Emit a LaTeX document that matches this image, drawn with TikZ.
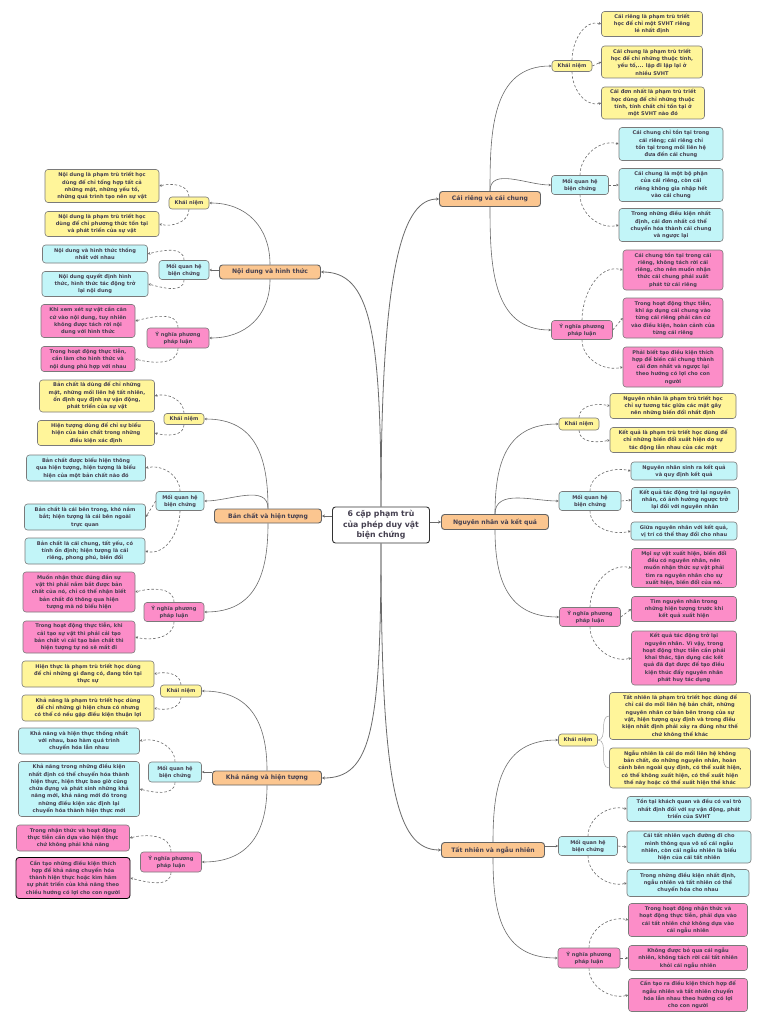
\documentclass[tikz,border=0pt]{standalone}
\usepackage{fontspec}
\setmainfont{DejaVu Sans}
\usetikzlibrary{arrows.meta}
\definecolor{txt}{HTML}{454050}
\definecolor{yel}{HTML}{FFF59A}
\definecolor{cya}{HTML}{C2F5F8}
\definecolor{pnk}{HTML}{FC8DC8}
\definecolor{org}{HTML}{FBC690}
\definecolor{bdr}{HTML}{7A7A7A}
\definecolor{lnk}{HTML}{6A6A6A}
\tikzset{
  box/.style={rounded corners=3pt, draw=bdr, line width=0.6pt, align=center, text=txt, inner sep=1pt, font=\bfseries\fontsize{5.1}{7.3}\selectfont},
  wh/.style 2 args={minimum width=#1pt, minimum height=#2pt},
  yl/.style={box, fill=yel},
  cy/.style={box, fill=cya},
  pk/.style={box, fill=pnk},
  topic/.style={box, fill=org, line width=0.9pt, draw=bdr!80!black, font=\bfseries\fontsize{6.1}{8}\selectfont},
  rootbox/.style={box, fill=white, draw=black!80, line width=0.9pt, font=\bfseries\fontsize{7.8}{10.5}\selectfont},
  mainlink/.style={draw=lnk, line width=0.8pt, -{Stealth[length=3pt,width=3pt]}},
  sublink/.style={draw=lnk, line width=0.6pt, -{Stealth[length=2.6pt,width=2.6pt]}},
  leaflink/.style={draw=lnk, line width=0.6pt, dash pattern=on 2.5pt off 2pt, -{Stealth[length=2.6pt,width=2.6pt]}},
  plainlink/.style={draw=gray!70, line width=0.5pt},
}
\begin{document}
\begin{tikzpicture}[x=1pt,y=1pt]
\useasboundingbox (0,0) rectangle (768,-1024);
\fill[white] (0,0) rectangle (768,-1024);

% root and topics
\node[rootbox, wh={97}{36}] (root) at (381,-525) {6 cặp phạm trù\\của phép duy vật\\biện chứng};
\node[topic, wh={101}{15}] (crc) at (490,-199) {Cái riêng và cái chung};
\node[topic, wh={107}{15}] (nn) at (495,-522) {Nguyên nhân và kết quả};
\node[topic, wh={103}{15}] (tn) at (493,-850) {Tất nhiên và ngẫu nhiên};
\node[topic, wh={101}{14}] (nd) at (270,-272) {Nội dung và hình thức};
\node[topic, wh={107}{14}] (bc) at (268,-516) {Bản chất và hiện tượng};
\node[topic, wh={109}{14}] (kn) at (267,-778) {Khả năng và hiện tượng};

% ---------- Cái riêng và cái chung ----------
\node[yl, wh={40}{11}] (k1) at (572,-66) {Khái niệm};
\node[yl, wh={101}{25}] (k1a) at (652,-24) {Cái riêng là phạm trù triết\\học để chỉ một SVHT riêng\\lẻ nhất định};
\node[yl, wh={101}{32}] (k1b) at (652,-62) {Cái chung là phạm trù triết\\học để chỉ những thuộc tính,\\yếu tố,... lặp đi lặp lại ở\\nhiều SVHT};
\node[yl, wh={103}{32}] (k1c) at (653,-103) {Cái đơn nhất là phạm trù triết\\học dùng để chỉ những thuộc\\tính, tính chất chỉ tồn tại ở\\một SVHT nào đó};
\node[cy, wh={57}{19}] (m1) at (580,-185) {Mối quan hệ\\biện chứng};
\node[cy, wh={104}{33}] (m1a) at (671,-144) {Cái chung chỉ tồn tại trong\\cái riêng; cái riêng chỉ\\tồn tại trong mối liên hệ\\đưa đến cái chung};
\node[cy, wh={104}{33}] (m1b) at (671,-185) {Cái chung là một bộ phận\\của cái riêng, còn cái\\riêng không gia nhập hết\\vào cái chung};
\node[cy, wh={104}{33}] (m1c) at (671,-225) {Trong những điều kiện nhất\\định, cái đơn nhất có thể\\chuyển hóa thành cái chung\\và ngược lại};
\node[pk, wh={61}{19}] (y1) at (582,-330) {Ý nghĩa phương\\pháp luận};
\node[pk, wh={100}{40}] (y1a) at (673,-270) {Cái chung tồn tại trong cái\\riêng, không tách rời cái\\riêng, cho nên muốn nhận\\thức cái chung phải xuất\\phát từ cái riêng};
\node[pk, wh={100}{40}] (y1b) at (673,-318) {Trong hoạt động thực tiễn,\\khi áp dụng cái chung vào\\từng cái riêng phải căn cứ\\vào điều kiện, hoàn cảnh của\\từng cái riêng};
\node[pk, wh={100}{40}] (y1c) at (673,-367) {Phải biết tạo điều kiện thích\\hợp để biến cái chung thành\\cái đơn nhất và ngược lại\\theo hướng có lợi cho con\\người};

% ---------- Nguyên nhân và kết quả ----------
\node[yl, wh={40}{12}] (k2) at (579,-424) {Khái niệm};
\node[yl, wh={126}{25}] (k2a) at (673,-406) {Nguyên nhân là phạm trù triết học\\chỉ sự tương tác giữa các mặt gây\\nên những biến đổi nhất định};
\node[yl, wh={126}{25}] (k2b) at (673,-440) {Kết quả là phạm trù triết học dùng để\\chỉ những biến đổi xuất hiện do sự\\tác động lẫn nhau của các mặt};
\node[cy, wh={62}{19}] (m2) at (590,-501) {Mối quan hệ\\biện chứng};
\node[cy, wh={106}{18}] (m2a) at (684,-471) {Nguyên nhân sinh ra kết quả\\và quy định kết quả};
\node[cy, wh={107}{25}] (m2b) at (685,-500) {Kết quả tác động trở lại nguyên\\nhân, có ảnh hưởng ngược trở\\lại đối với nguyên nhân};
\node[cy, wh={106}{18}] (m2c) at (684,-531) {Giữa nguyên nhân với kết quả,\\vị trí có thể thay đổi cho nhau};
\node[pk, wh={61}{19}] (y2) at (590,-617) {Ý nghĩa phương\\pháp luận};
\node[pk, wh={105}{39}] (y2a) at (684,-568) {Mọi sự vật xuất hiện, biến đổi\\đều có nguyên nhân, nên\\muốn nhận thức sự vật phải\\tìm ra nguyên nhân cho sự\\xuất hiện, biến đổi của nó.};
\node[pk, wh={105}{25}] (y2b) at (684,-609) {Tìm nguyên nhân trong\\những hiện tượng trước khi\\kết quả xuất hiện};
\node[pk, wh={105}{54}] (y2c) at (684,-658) {Kết quả tác động trở lại\\nguyên nhân. Vì vậy, trong\\hoạt động thực tiễn cần phải\\khai thác, tận dụng các kết\\quả đã đạt được để tạo điều\\kiện thúc đẩy nguyên nhân\\phát huy tác dụng};

% ---------- Tất nhiên và ngẫu nhiên ----------
\node[yl, wh={39}{12}] (k3) at (578,-740) {Khái niệm};
\node[yl, wh={141}{47}] (k3a) at (680,-716) {Tất nhiên là phạm trù triết học dùng để\\chỉ cái do mối liên hệ bản chất, những\\nguyên nhân cơ bản bên trong của sự\\vật, hiện tượng quy định và trong điều\\kiện nhất định phải xảy ra đúng như thế\\chứ không thể khác};
\node[yl, wh={141}{40}] (k3b) at (680,-768) {Ngẫu nhiên là cái do mối liên hệ không\\bản chất, do những nguyên nhân, hoàn\\cảnh bên ngoài quy định, có thể xuất hiện,\\có thể không xuất hiện, có thể xuất hiện\\thế này hoặc có thể xuất hiện thế khác};
\node[cy, wh={59}{19}] (m3) at (588,-846) {Mối quan hệ\\biện chứng};
\node[cy, wh={124}{25}] (m3a) at (689,-809) {Tồn tại khách quan và đều có vai trò\\nhất định đối với sự vận động, phát\\triển của SVHT};
\node[cy, wh={124}{32}] (m3b) at (689,-847) {Cái tất nhiên vạch đường đi cho\\mình thông qua vô số cái ngẫu\\nhiên, còn cái ngẫu nhiên là biểu\\hiện của cái tất nhiên};
\node[cy, wh={122}{27}] (m3c) at (688,-883) {Trong những điều kiện nhất định,\\ngẫu nhiên và tất nhiên có thể\\chuyển hóa cho nhau};
\node[pk, wh={62}{20}] (y3) at (589,-958) {Ý nghĩa phương\\pháp luận};
\node[pk, wh={119}{33}] (y3a) at (688,-920) {Trong hoạt động nhận thức và\\hoạt động thực tiễn, phải dựa vào\\cái tất nhiên chứ không dựa vào\\cái ngẫu nhiên};
\node[pk, wh={119}{25}] (y3b) at (688,-958) {Không được bỏ qua cái ngẫu\\nhiên, không tách rời cái tất nhiên\\khỏi cái ngẫu nhiên};
\node[pk, wh={119}{33}] (y3c) at (688,-995) {Cần tạo ra điều kiện thích hợp để\\ngẫu nhiên và tất nhiên chuyển\\hóa lẫn nhau theo hướng có lợi\\cho con người};

% ---------- Nội dung và hình thức ----------
\node[yl, wh={40}{12}] (k4) at (189,-203) {Khái niệm};
\node[yl, wh={114}{33}] (k4a) at (102,-186) {Nội dung là phạm trù triết học\\dùng để chỉ tổng hợp tất cả\\những mặt, những yếu tố,\\những quá trình tạo nên sự vật};
\node[yl, wh={114}{25}] (k4b) at (102,-224) {Nội dung là phạm trù triết học\\dùng để chỉ phương thức tồn tại\\và phát triển của sự vật};
\node[cy, wh={50}{19}] (m4) at (184,-270) {Mối quan hệ\\biện chứng};
\node[cy, wh={105}{18}] (m4a) at (95,-254) {Nội dung và hình thức thống\\nhất với nhau};
\node[cy, wh={106}{25}] (m4b) at (95,-284) {Nội dung quyết định hình\\thức, hình thức tác động trở\\lại nội dung};
\node[pk, wh={62}{20}] (y4) at (178,-338) {Ý nghĩa phương\\pháp luận};
\node[pk, wh={94}{33}] (y4a) at (88,-321) {Khi xem xét sự vật cần căn\\cứ vào nội dung, tuy nhiên\\không được tách rời nội\\dung với hình thức};
\node[pk, wh={94}{25}] (y4b) at (88,-359) {Trong hoạt động thực tiễn,\\cần làm cho hình thức và\\nội dung phù hợp với nhau};

% ---------- Bản chất và hiện tượng ----------
\node[yl, wh={40}{11}] (k5) at (184,-419) {Khái niệm};
\node[yl, wh={115}{32}] (k5a) at (97,-396) {Bản chất là dùng để chỉ những\\mặt, những mối liên hệ tất nhiên,\\ổn định quy định sự vận động,\\phát triển của sự vật};
\node[yl, wh={117}{25}] (k5b) at (96,-433) {Hiện tượng dùng để chỉ sự biểu\\hiện của bản chất trong những\\điều kiện xác định};
\node[cy, wh={48}{19}] (m5) at (180,-501) {Mối quan hệ\\biện chứng};
\node[cy, wh={119}{26}] (m5a) at (86,-468) {Bản chất được biểu hiện thông\\qua hiện tượng, hiện tượng là biểu\\hiện của một bản chất nào đó};
\node[cy, wh={121}{26}] (m5b) at (85,-517) {Bản chất là cái bên trong, khó nắm\\bắt; hiện tượng là cái bên ngoài\\trực quan};
\node[cy, wh={120}{26}] (m5c) at (85,-551) {Bản chất là cái chung, tất yếu, có\\tính ổn định; hiện tượng là cái\\riêng, phong phú, biến đổi};
\node[pk, wh={60}{19}] (y5) at (174,-612) {Ý nghĩa phương\\pháp luận};
\node[pk, wh={112}{40}] (y5a) at (79,-592) {Muốn nhận thức đúng đắn sự\\vật thì phải nắm bắt được bản\\chất của nó, chỉ có thể nhận biết\\bản chất đó thông qua hiện\\tượng mà nó biểu hiện};
\node[pk, wh={112}{32}] (y5b) at (79,-637) {Trong hoạt động thực tiễn, khi\\cải tạo sự vật thì phải cải tạo\\bản chất vì cải tạo bản chất thì\\hiện tượng tự nó sẽ mất đi};

% ---------- Khả năng và hiện tượng ----------
\node[yl, wh={41}{12}] (k6) at (181,-691) {Khái niệm};
\node[yl, wh={132}{26}] (k6a) at (88,-674) {Hiện thực là phạm trù triết học dùng\\để chỉ những gì đang có, đang tồn tại\\thực sự};
\node[yl, wh={132}{26}] (k6b) at (88,-708) {Khả năng là phạm trù triết học dùng\\để chỉ những gì hiện chưa có nhưng\\có thể có nếu gặp điều kiện thuận lợi};
\node[cy, wh={53}{20}] (m6) at (175,-772) {Mối quan hệ\\biện chứng};
\node[cy, wh={121}{26}] (m6a) at (79,-741) {Khả năng và hiện thực thống nhất\\với nhau, bao hàm quá trình\\chuyển hóa lẫn nhau};
\node[cy, wh={121}{55}] (m6b) at (79,-789) {Khả năng trong những điều kiện\\nhất định có thể chuyển hóa thành\\hiện thực, hiện thực bao giờ cũng\\chứa đựng và phát sinh những khả\\năng mới, khả năng mới đó trong\\những điều kiện xác định lại\\chuyển hóa thành hiện thực mới};
\node[pk, wh={61}{20}] (y6) at (171,-862) {Ý nghĩa phương\\pháp luận};
\node[pk, wh={113}{26}] (y6a) at (73,-838) {Trong nhận thức và hoạt động\\thực tiễn cần dựa vào hiện thực\\chứ không phải khả năng};
\node[pk, wh={114}{41}, draw=black, line width=0.8pt] (y6b) at (73,-878) {Cần tạo những điều kiện thích\\hợp để khả năng chuyển hóa\\thành hiện thực hoặc kìm hãm\\sự phát triển của khả năng theo\\chiều hướng có lợi cho con người};

% ---------- main links ----------
\draw[mainlink] (root.north) .. controls +(0,247) and +(-35,0) .. (crc.west);
\draw[mainlink] (root.north) .. controls +(0,177) and +(49,0) .. (nd.east);
\draw[mainlink] (bc.east -| root.west) -- (bc.east);
\draw[mainlink] (nn.west -| root.east) -- (nn.west);
\draw[mainlink] (root.south) .. controls +(0,-187) and +(49,0) .. (kn.east);
\draw[mainlink] (root.south) .. controls +(0,-237) and +(-46,0) .. (tn.west);

% ---------- topic to sub links ----------
\draw[sublink] (crc.north) to[out=90,in=180,looseness=1.1] (k1.west);
\draw[sublink] (crc.north) to[out=90,in=180] (m1.west);
\draw[sublink] (crc.south) to[out=-90,in=180,looseness=1.1] (y1.west);
\draw[sublink] (nn.north) to[out=90,in=180,looseness=1.2] (k2.west);
\draw[sublink] (nn.north) to[out=90,in=180] (m2.west);
\draw[sublink] (nn.south) to[out=-90,in=180,looseness=1.2] (y2.west);
\draw[sublink] (tn.north) to[out=90,in=180,looseness=1.2] (k3.west);
\draw[sublink] (m3.west -| tn.east) -- (m3.west);
\draw[sublink] (tn.south) to[out=-90,in=180,looseness=1.2] (y3.west);
\draw[sublink] (nd.north) to[out=90,in=0,looseness=1.1] (k4.east);
\draw[sublink] (m4.east -| nd.west) -- (m4.east);
\draw[sublink] (nd.south) to[out=-90,in=0,looseness=1.1] (y4.east);
\draw[sublink] (bc.north) to[out=90,in=0,looseness=1.2] (k5.east);
\draw[sublink] (bc.north) to[out=90,in=0] (m5.east);
\draw[sublink] (bc.south) to[out=-90,in=0,looseness=1.2] (y5.east);
\draw[sublink] (kn.north) to[out=90,in=0,looseness=1.2] (k6.east);
\draw[sublink] (m6.east -| kn.west) -- (m6.east);
\draw[sublink] (kn.south) to[out=-90,in=0,looseness=1.2] (y6.east);

% ---------- sub to leaf links (right) ----------
\draw[leaflink] (k1.north) to[out=90,in=165] (k1a.west);
\draw[leaflink] (k1.east) -- (k1b.west);
\draw[leaflink] (k1.south) to[out=-90,in=195] (k1c.west);
\draw[leaflink] (m1.north) to[out=90,in=165] (m1a.west);
\draw[leaflink] (m1.east) -- (m1b.west);
\draw[leaflink] (m1.south) to[out=-90,in=195] (m1c.west);
\draw[leaflink] (y1.north) to[out=90,in=165] (y1a.west);
\draw[leaflink] (y1.east) -- (y1b.west);
\draw[leaflink] (y1.south) to[out=-90,in=195] (y1c.west);
\draw[leaflink] (k2.north) to[out=90,in=165] (k2a.west);
\draw[leaflink] (k2.south) to[out=-90,in=195] (k2b.west);
\draw[leaflink] (m2.north) to[out=90,in=165] (m2a.west);
\draw[leaflink] (m2.east) -- (m2b.west);
\draw[leaflink] (m2.south) to[out=-90,in=195] (m2c.west);
\draw[leaflink] (y2.north) to[out=90,in=165] (y2a.west);
\draw[leaflink] (y2.east) -- (y2b.west);
\draw[leaflink] (y2.south) to[out=-90,in=195] (y2c.west);
\draw[plainlink] (k3.east) to[out=0,in=180] (k3a.west);
\draw[plainlink] (k3.east) to[out=0,in=180] (k3b.west);
\draw[leaflink] (m3.north) to[out=90,in=165] (m3a.west);
\draw[leaflink] (m3.east) -- (m3b.west);
\draw[leaflink] (m3.south) to[out=-90,in=195] (m3c.west);
\draw[leaflink] (y3.north) to[out=90,in=165] (y3a.west);
\draw[leaflink] (y3.east) -- (y3b.west);
\draw[leaflink] (y3.south) to[out=-90,in=195] (y3c.west);

% ---------- sub to leaf links (left) ----------
\draw[leaflink] (k4.north) to[out=90,in=15] (k4a.east);
\draw[leaflink] (k4.south) to[out=-90,in=-15] (k4b.east);
\draw[leaflink] (m4.north) to[out=90,in=15] (m4a.east);
\draw[leaflink] (m4.south) to[out=-90,in=-15] (m4b.east);
\draw[leaflink] (y4.north) to[out=90,in=15] (y4a.east);
\draw[leaflink] (y4.south) to[out=-90,in=-15] (y4b.east);
\draw[leaflink] (k5.north) to[out=90,in=15] (k5a.east);
\draw[leaflink] (k5.south) to[out=-90,in=-15] (k5b.east);
\draw[leaflink] (m5.north) to[out=90,in=15] (m5a.east);
\draw[leaflink] (m5.west) -- (m5b.east);
\draw[leaflink] (m5.south) to[out=-90,in=-15] (m5c.east);
\draw[leaflink] (y5.north) to[out=90,in=15] (y5a.east);
\draw[leaflink] (y5.south) to[out=-90,in=-15] (y5b.east);
\draw[leaflink] (k6.north) to[out=90,in=15] (k6a.east);
\draw[leaflink] (k6.south) to[out=-90,in=-15] (k6b.east);
\draw[leaflink] (m6.north) to[out=90,in=15] (m6a.east);
\draw[leaflink] (m6.south) to[out=-90,in=-15] (m6b.east);
\draw[leaflink] (y6.north) to[out=90,in=15] (y6a.east);
\draw[leaflink] (y6.south) to[out=-90,in=-15] (y6b.east);
\end{tikzpicture}
\end{document}
